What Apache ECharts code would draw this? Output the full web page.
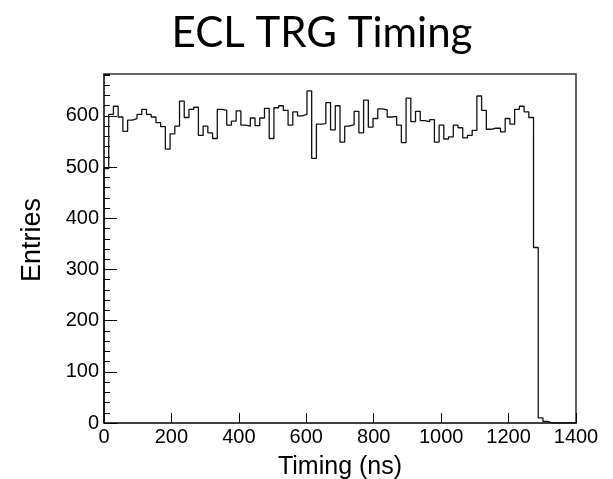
<!DOCTYPE html>
<html>
<head>
<meta charset="utf-8">
<script src="https://cdn.jsdelivr.net/npm/echarts@6/dist/echarts.min.js"></script>
<style>
html,body{margin:0;padding:0;background:#fff;}
#c{width:613px;height:479px;}
</style>
</head>
<body>
<div id="c"></div>
<script>
const titleText = 'ECL TRG Timing';
const xTitle = 'Timing (ns)';
const yTitle = 'Entries';
const binWidth = 14;
const xTicks = [0, 200, 400, 600, 800, 1000, 1200, 1400];
const yTicks = [0, 100, 200, 300, 400, 500, 600];
const counts = [
  497, 603, 619, 598, 570, 592, 595, 603, 613, 603,
  598, 587, 579, 535, 565, 580, 629, 597, 613, 617,
  562, 580, 567, 556, 613, 611, 582, 590, 610, 582,
  580, 596, 581, 596, 615, 556, 616, 620, 611, 582,
  608, 600, 603, 649, 517, 584, 585, 626, 573, 620,
  549, 580, 583, 609, 567, 631, 578, 595, 614, 612,
  598, 599, 582, 548, 635, 589, 609, 591, 589, 593,
  549, 582, 555, 559, 582, 577, 557, 562, 572, 639,
  611, 574, 576, 576, 569, 595, 584, 613, 619, 608,
  597, 343, 10, 3, 0, 0, 0, 0, 0, 0
];

const binEdges = counts.map((_, i) => i * binWidth);
const stepData = [[binEdges[0], 0]];
counts.forEach((v, i) => stepData.push([binEdges[i], v]));
stepData.push([counts.length * binWidth, 0]);

const chart = echarts.init(document.getElementById('c'), null, {renderer: 'canvas'});
const labelFont = 'Liberation Sans';
chart.setOption({
  animation: false,
  backgroundColor: '#ffffff',
  graphic: [
    {
      type: 'text', x: 322, y: 33,
      style: {text: titleText, fontFamily: 'Lato', fontSize: 42, fill: '#000',
        textAlign: 'center', textVerticalAlign: 'middle'}
    },
    {
      type: 'text', x: 33, y: 240, rotation: Math.PI / 2,
      style: {text: yTitle, fontFamily: labelFont, fontSize: 27, fill: '#000',
        textAlign: 'center', textVerticalAlign: 'middle'}
    }
  ],
  grid: {
    left: 104, right: 37, top: 74, bottom: 56,
    containLabel: false, outerBoundsMode: 'none',
    show: true, borderColor: '#333', borderWidth: 1.5, backgroundColor: 'transparent'
  },
  xAxis: {
    type: 'value', min: 0, max: 1400, interval: 200,
    name: xTitle, nameLocation: 'middle', nameGap: 32,
    nameTextStyle: {fontFamily: labelFont, fontSize: 25, color: '#000'},
    axisLine: {show: true, onZero: false, lineStyle: {color: '#333', width: 1.5}},
    axisTick: {show: true, inside: true, length: 10, lineStyle: {color: '#000', width: 1}},
    axisLabel: {fontFamily: labelFont, fontSize: 20, color: '#000', margin: 4,
      formatter: v => xTicks.includes(v) ? String(v) : ''},
    splitLine: {show: false}
  },
  yAxis: [
    {
      type: 'value', min: 0, max: 682, interval: 100,
      axisLine: {show: true, lineStyle: {color: '#333', width: 1.5}},
      axisTick: {show: true, inside: true, length: 13, lineStyle: {color: '#000', width: 1}},
      axisLabel: {fontFamily: labelFont, fontSize: 20, color: '#000', margin: 5, showMaxLabel: false,
        formatter: v => yTicks.includes(v) ? String(v) : ''},
      splitLine: {show: false}
    },
    {
      type: 'value', min: 0, max: 682, interval: 20, position: 'left',
      axisLine: {show: false},
      axisTick: {show: true, inside: true, length: 6, lineStyle: {color: '#000', width: 1}},
      axisLabel: {show: false},
      splitLine: {show: false}
    }
  ],
  series: [{
    type: 'line',
    step: 'end',
    data: stepData,
    showSymbol: false,
    symbol: 'none',
    lineStyle: {color: '#111', width: 1.3},
    yAxisIndex: 0
  }]
});
</script>
</body>
</html>
